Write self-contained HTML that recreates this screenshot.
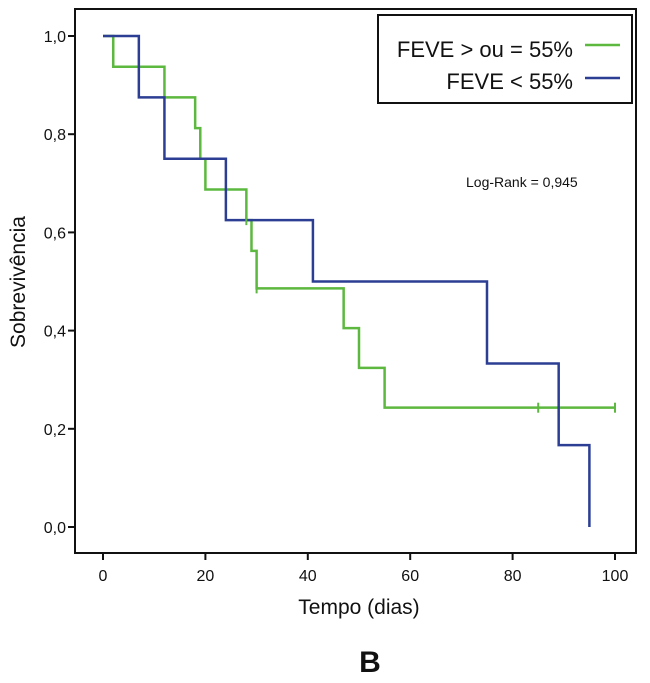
<!DOCTYPE html>
<html><head><meta charset="utf-8"><style>
body{margin:0;background:#fff;}
svg text{font-family:"Liberation Sans",sans-serif;}
</style></head><body>
<svg width="650" height="678" viewBox="0 0 650 678">
<rect x="75" y="9" width="561" height="544" fill="none" stroke="#111" stroke-width="2"/>
<g id="axes"></g>
<g id="series"></g>
<rect x="378" y="15" width="254" height="88" fill="#fff" stroke="#111" stroke-width="2"/>
<text x="573" y="57" font-size="22" text-anchor="end" fill="#111">FEVE &gt; ou = 55%</text>
<line x1="585" y1="45" x2="620" y2="45" stroke="#5cb83e" stroke-width="2.5"/>
<text x="573" y="89" font-size="22" text-anchor="end" fill="#111">FEVE &lt; 55%</text>
<line x1="585" y1="78" x2="620" y2="78" stroke="#2c3e94" stroke-width="2.5"/>
<text x="466" y="187" font-size="14" fill="#111">Log-Rank = 0,945</text>
<text x="359" y="614" font-size="21" text-anchor="middle" fill="#111">Tempo (dias)</text>
<text transform="translate(25,282) rotate(-90)" font-size="21" text-anchor="middle" fill="#111">Sobrevivência</text>
<text x="370" y="672" font-size="30" font-weight="bold" text-anchor="middle" fill="#111">B</text>
</svg>
<script>
const xTicks=[0,20,40,60,80,100];
const yTicks=[0,0.2,0.4,0.6,0.8,1.0];
const yTickLabels=["0,0","0,2","0,4","0,6","0,8","1,0"];
const greenTimes=[0,2,12,18,19,20,28,29,30,47,50,55,100];
const greenSurv=[1,0.9375,0.875,0.8125,0.75,0.6875,0.625,0.5625,0.486,0.405,0.324,0.243,0.243];
const greenCensor=[28,30,85,100];
const blueTimes=[0,7,12,24,41,75,89,95];
const blueSurv=[1,0.875,0.75,0.625,0.5,0.333,0.1667,0];
const NS="http://www.w3.org/2000/svg";
function X(t){return 103+5.12*t;}
function Y(s){return 36+491*(1-s);}
function mk(tag,attrs,parent){const e=document.createElementNS(NS,tag);for(const k in attrs)e.setAttribute(k,attrs[k]);parent.appendChild(e);return e;}
const ax=document.getElementById('axes');
xTicks.forEach(v=>{
 const l=mk('line',{x1:X(v),x2:X(v),y1:553,y2:560,stroke:'#111','stroke-width':2},ax);
 
 
 const t=mk('text',{x:X(v),y:581,'font-size':16,'text-anchor':'middle',fill:'#111'},ax);
 t.textContent=v;
 
 
});
yTicks.forEach((v,i)=>{
 const l=mk('line',{x1:68,x2:75,y1:Y(v),y2:Y(v),stroke:'#111','stroke-width':2},ax);
 
 
 const t=mk('text',{x:66,y:Y(v)+6,'font-size':16,'text-anchor':'end',fill:'#111'},ax);
 t.textContent=yTickLabels[i];
 
 
});
const sg=document.getElementById('series');
function stepPath(ts,ss){let d='M'+X(ts[0])+','+Y(ss[0]);for(let i=1;i<ts.length;i++){d+=' H'+X(ts[i])+' V'+Y(ss[i]);}return d;}
const gp=mk('path',{d:stepPath(greenTimes,greenSurv),fill:'none',stroke:'#5cb83e','stroke-width':2.5},sg);


const bp=mk('path',{d:stepPath(blueTimes,blueSurv),fill:'none',stroke:'#2c3e94','stroke-width':2.5},sg);


function survAt(t){let s=1;for(let i=0;i<greenTimes.length;i++){if(greenTimes[i]<=t)s=greenSurv[i];}return s;}
greenCensor.forEach(t=>{
 const y=Y(survAt(t));
 const c=mk('line',{x1:X(t),x2:X(t),y1:y-5,y2:y+5,stroke:'#5cb83e','stroke-width':2},sg);
 
 
});
</script>
</body></html>
